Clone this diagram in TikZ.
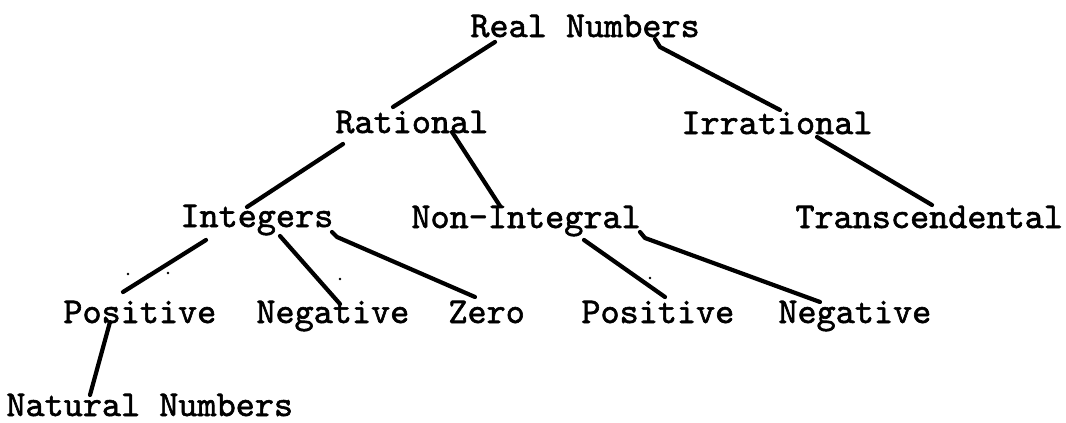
\documentclass[tikz,border=0pt]{standalone}
\usepackage{fontspec}
\newfontfamily\typewriter{lmmono10-regular.otf}[FakeBold=1.6]
\begin{document}
\begin{tikzpicture}[x=0.5pt,y=-0.5pt,
  term/.style={inner sep=0pt,anchor=base west,
    font=\fontsize{18.2pt}{20pt}\typewriter},
  branch/.style={line width=2.1pt,line cap=round,line join=round},
  speck/.style={fill=black,draw=none}]
\useasboundingbox (0,0) rectangle (1066,423);

% labels, placed by the left end of their baselines
\node[term] (real)    at (470,37)  {Real Numbers};
\node[term] (rat)     at (335,133) {Rational};
\node[term] (irr)     at (681,134) {Irrational};
\node[term] (int)     at (180,227) {Integers};
\node[term] (nonint)  at (411,228) {Non-Integral};
\node[term] (trans)   at (795,228) {Transcendental};
\node[term] (pos)     at (63,323)  {Positive};
\node[term] (neg)     at (256,323) {Negative};
\node[term] (zero)    at (448,323) {Zero};
\node[term] (posb)    at (581,323) {Positive};
\node[term] (negb)    at (778,323) {Negative};
\node[term] (nat)     at (6,416)   {Natural Numbers};

% branches
\draw[branch] ([shift={(25,5)}]real.base west) -- ([shift={(58,-26)}]rat.base west);
\draw[branch] ([shift={(185,2)}]real.base west) -- ([shift={(190,10)}]real.base west)
              -- ([shift={(99,-24)}]irr.base west);
\draw[branch] ([shift={(8,11)}]rat.base west) -- ([shift={(67,-20)}]int.base west);
\draw[branch] ([shift={(117,-1)}]rat.base west) -- ([shift={(89,-22)}]nonint.base west);
\draw[branch] ([shift={(136,3)}]irr.base west) -- ([shift={(137,-23)}]trans.base west);
\draw[branch] ([shift={(26,13)}]int.base west) -- ([shift={(60,-31)}]pos.base west);
\draw[branch] ([shift={(100,9)}]int.base west) -- ([shift={(84,-19)}]neg.base west);
\draw[branch] ([shift={(152,5)}]int.base west) -- ([shift={(157,10)}]int.base west)
              -- ([shift={(27,-26)}]zero.base west);
\draw[branch] ([shift={(173,12)}]nonint.base west) -- ([shift={(84,-26)}]posb.base west);
\draw[branch] ([shift={(229,4)}]nonint.base west) -- ([shift={(234,10)}]nonint.base west)
              -- ([shift={(42,-21)}]negb.base west);
\draw[branch] ([shift={(47,-1)}]pos.base west) -- ([shift={(84,-21)}]nat.base west);

% stray typewriter specks
\foreach \p in {(128,274),(148,275),(168,273),(320,280),(340,279),(650,278)}
  \fill[speck] \p circle (1.3);
\end{tikzpicture}
\end{document}
